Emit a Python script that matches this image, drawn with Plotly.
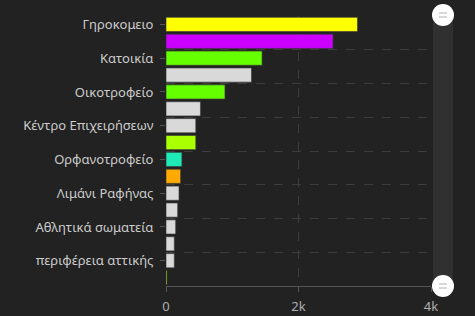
import plotly.graph_objects as go

categories = ["Γηροκομειο", "c1", "Κατοικία", "c3", "Οικοτροφείο", "c5",
              "Κέντρο Επιχειρήσεων", "c7", "Ορφανοτροφείο", "c9", "Λιμάνι Ραφήνας",
              "c11", "Αθλητικά σωματεία", "c13", "περιφέρεια αττικής", "c15"]
values = [2890, 2520, 1450, 1290, 890, 520, 450, 450, 240, 220, 196, 176, 146, 125, 125, 15]
colors = ["#ffff00", "#cc00ff", "#66ff00", "#d9d9d9", "#66ff00", "#d9d9d9",
          "#d9d9d9", "#aaff00", "#1de9b6", "#ffaa00", "#d9d9d9", "#d9d9d9",
          "#d9d9d9", "#d9d9d9", "#d9d9d9", "#aaff00"]
x_ticks = [0, 2000, 4000]
x_tick_text = ["0", "2k", "4k"]

pos = list(range(len(categories)))
label_pos = pos[::2]
label_text = categories[::2]

fig = go.Figure(go.Bar(
    y=pos, x=values, orientation="h",
    marker=dict(color=colors, line=dict(width=0.8, color="rgba(60,60,60,0.8)")),
    width=0.84, hoverinfo="x+text", text=categories, textposition="none",
))

bg = "#222222"
fig.update_layout(
    width=475, height=316,
    margin=dict(l=166, r=44, t=16, b=30, autoexpand=False),
    paper_bgcolor=bg, plot_bgcolor=bg,
    showlegend=False,
    font=dict(family="Noto Sans", size=13, color="#c8c8c8"),
    xaxis=dict(range=[0, 4000], tickvals=x_ticks, ticktext=x_tick_text,
               showgrid=True, gridcolor="#3c3c3c", griddash="dash", gridwidth=1,
               zeroline=False, showline=True, linecolor="#555555", linewidth=1,
               ticks="outside", ticklen=5, tickcolor="#555555",
               ticklabelstandoff=3, tickfont=dict(color="#b0b0b0", size=13),
               automargin=False, fixedrange=True),
    yaxis=dict(range=[15.5, -0.5], tickvals=label_pos, ticktext=label_text,
               showgrid=False, zeroline=False, showline=False,
               ticks="outside", ticklen=5, tickcolor="#555555",
               ticklabelstandoff=4, tickfont=dict(color="#cccccc", size=13),
               minor=dict(tickvals=[-0.5 + 2 * k for k in range(8)], showgrid=True,
                          gridcolor="#3c3c3c", griddash="dash", gridwidth=1, ticks=""),
               automargin=False, fixedrange=True),
)

# data-zoom style slider on the right
shapes = [dict(type="rect", xref="paper", yref="paper", xsizemode="pixel", xanchor=1,
               x0=2, x1=22, y0=0, y1=1, fillcolor="#303030", line=dict(width=0), layer="below")]
for yy in (1, 0):
    off = 1 if yy == 1 else 0
    shapes.append(dict(type="circle", xref="paper", yref="paper", xsizemode="pixel",
                       ysizemode="pixel", xanchor=1, yanchor=yy,
                       x0=1, x1=23, y0=-11 + off, y1=11 + off,
                       fillcolor="#ffffff", line=dict(width=0)))
    for dy in (-2, 2):
        shapes.append(dict(type="line", xref="paper", yref="paper", xsizemode="pixel",
                           ysizemode="pixel", xanchor=1, yanchor=yy,
                           x0=8, x1=16, y0=dy + off, y1=dy + off,
                           line=dict(color="#b0b0b0", width=1)))
fig.update_layout(shapes=shapes)

fig.write_html("out.html", config={"displayModeBar": False},
               post_script="document.body.style.margin='0';document.body.style.background='#222222';document.body.style.overflow='hidden';")
